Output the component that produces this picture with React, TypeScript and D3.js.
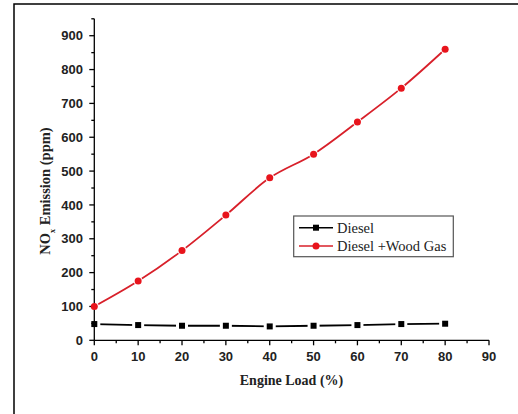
import React from "react";
import * as d3 from "d3";

const loads = [0, 10, 20, 30, 40, 50, 60, 70, 80];
const dieselNOx = [48, 45, 43, 43, 41, 43, 45, 48, 49];
const woodGasNOx = [100, 175, 265, 370, 480, 550, 645, 745, 860];
const xTicks = [0, 10, 20, 30, 40, 50, 60, 70, 80, 90];
const yTicks = [0, 100, 200, 300, 400, 500, 600, 700, 800, 900];
const legendLabels = ["Diesel", "Diesel +Wood Gas"];

const W = 518;
const H = 414;

export default function App() {
  const x = d3.scaleLinear().domain([0, 90]).range([94.3, 489]);
  const y = d3.scaleLinear().domain([0, 950]).range([340.3, 18.8]);
  const red = "#d8202a";
  const redMarker = "#e8141c";

  const redPath = d3
    .line<number>()
    .x((_, i) => x(loads[i]))
    .y((d) => y(d))
    .curve(d3.curveCatmullRom.alpha(0.5))(woodGasNOx) || "";

  const blackPath = d3
    .line<number>()
    .x((_, i) => x(loads[i]))
    .y((d) => y(d))(dieselNOx) || "";

  const xMinor = d3.range(5, 90, 10);
  const yMinor = d3.range(50, 951, 100);
  const tickFont = "'Liberation Sans', Arial, sans-serif";
  const serif = "'Liberation Serif', 'Times New Roman', serif";

  const lx = 293.7, ly = 216, lw = 159.6, lh = 40.7;

  return (
    <svg width={W} height={H} style={{ position: "absolute", left: 0, top: 0, background: "#fff" }}>
      <rect x={0} y={0} width={W} height={H} fill="#fff" />
      {/* outer frame (cropped) */}
      <path d={`M14,${H + 5} L14,4 L${W + 5},4`} fill="none" stroke="#000" strokeWidth={1.5} />

      {/* lines */}
      <path d={redPath} fill="none" stroke={red} strokeWidth={1.8} />
      <path d={blackPath} fill="none" stroke="#000" strokeWidth={1.8} />

      {/* halos for gaps */}
      {woodGasNOx.map((v, i) => (
        <circle key={"rh" + i} cx={x(loads[i])} cy={y(v)} r={4.6} fill="#fff" />
      ))}
      {dieselNOx.map((v, i) => (
        <rect key={"bh" + i} x={x(loads[i]) - 6} y={y(v) - 3.5} width={12} height={7} fill="#fff" />
      ))}

      {/* axes */}
      <g stroke="#000" strokeWidth={1.3}>
        <line x1={x(0)} x2={x(0)} y1={y(950)} y2={y(0)} />
        <line x1={x(0)} x2={x(90)} y1={y(0)} y2={y(0)} />
        {yTicks.map((t) => (
          <line key={"yt" + t} x1={x(0) - 5} x2={x(0)} y1={y(t)} y2={y(t)} />
        ))}
        {yMinor.map((t) => (
          <line key={"ym" + t} x1={x(0) - 3} x2={x(0)} y1={y(t)} y2={y(t)} />
        ))}
        {xTicks.map((t) => (
          <line key={"xt" + t} x1={x(t)} x2={x(t)} y1={y(0)} y2={y(0) + 5} />
        ))}
        {xMinor.map((t) => (
          <line key={"xm" + t} x1={x(t)} x2={x(t)} y1={y(0)} y2={y(0) + 3} />
        ))}
      </g>

      {/* tick labels */}
      <g fontFamily={tickFont} fontWeight="bold" fontSize={13} fill="#222">
        {yTicks.map((t) => (
          <text key={"yl" + t} x={83} y={y(t)} dy="0.36em" textAnchor="end">{t}</text>
        ))}
        {xTicks.map((t) => (
          <text key={"xl" + t} x={x(t)} y={361} textAnchor="middle">{t}</text>
        ))}
      </g>

      {/* markers */}
      {woodGasNOx.map((v, i) => (
        <circle key={"rm" + i} cx={x(loads[i])} cy={y(v)} r={3.5} fill={redMarker} />
      ))}
      {dieselNOx.map((v, i) => (
        <rect key={"bm" + i} x={x(loads[i]) - 3} y={y(v) - 3} width={6} height={6} fill="#000" />
      ))}

      {/* axis titles */}
      <text x={291.5} y={385} textAnchor="middle" fontFamily={serif} fontWeight="bold" fontSize={14} fill="#222">
        Engine Load (%)
      </text>
      <text
        transform={`translate(50,191) rotate(-90)`}
        textAnchor="middle"
        fontFamily={serif}
        fontWeight="bold"
        fontSize={14.5}
        fill="#222"
      >
        NO<tspan fontSize={8} dy={5}>x</tspan><tspan dy={-5}> Emission (ppm)</tspan>
      </text>

      {/* legend */}
      <rect x={lx} y={ly} width={lw} height={lh} fill="#fff" stroke="#555" strokeWidth={1.2} />
      <line x1={299} x2={333} y1={227.7} y2={227.7} stroke="#000" strokeWidth={1.6} />
      <rect x={316 - 3} y={227.7 - 3} width={6} height={6} fill="#000" />
      <line x1={299} x2={333} y1={246} y2={246} stroke={red} strokeWidth={1.6} />
      <circle cx={316} cy={246} r={3.5} fill={redMarker} />
      <g fontFamily={serif} fontSize={14.5} fill="#222">
        <text x={337} y={227.7} dy="0.35em">{legendLabels[0]}</text>
        <text x={337} y={246} dy="0.35em">{legendLabels[1]}</text>
      </g>
    </svg>
  );
}
